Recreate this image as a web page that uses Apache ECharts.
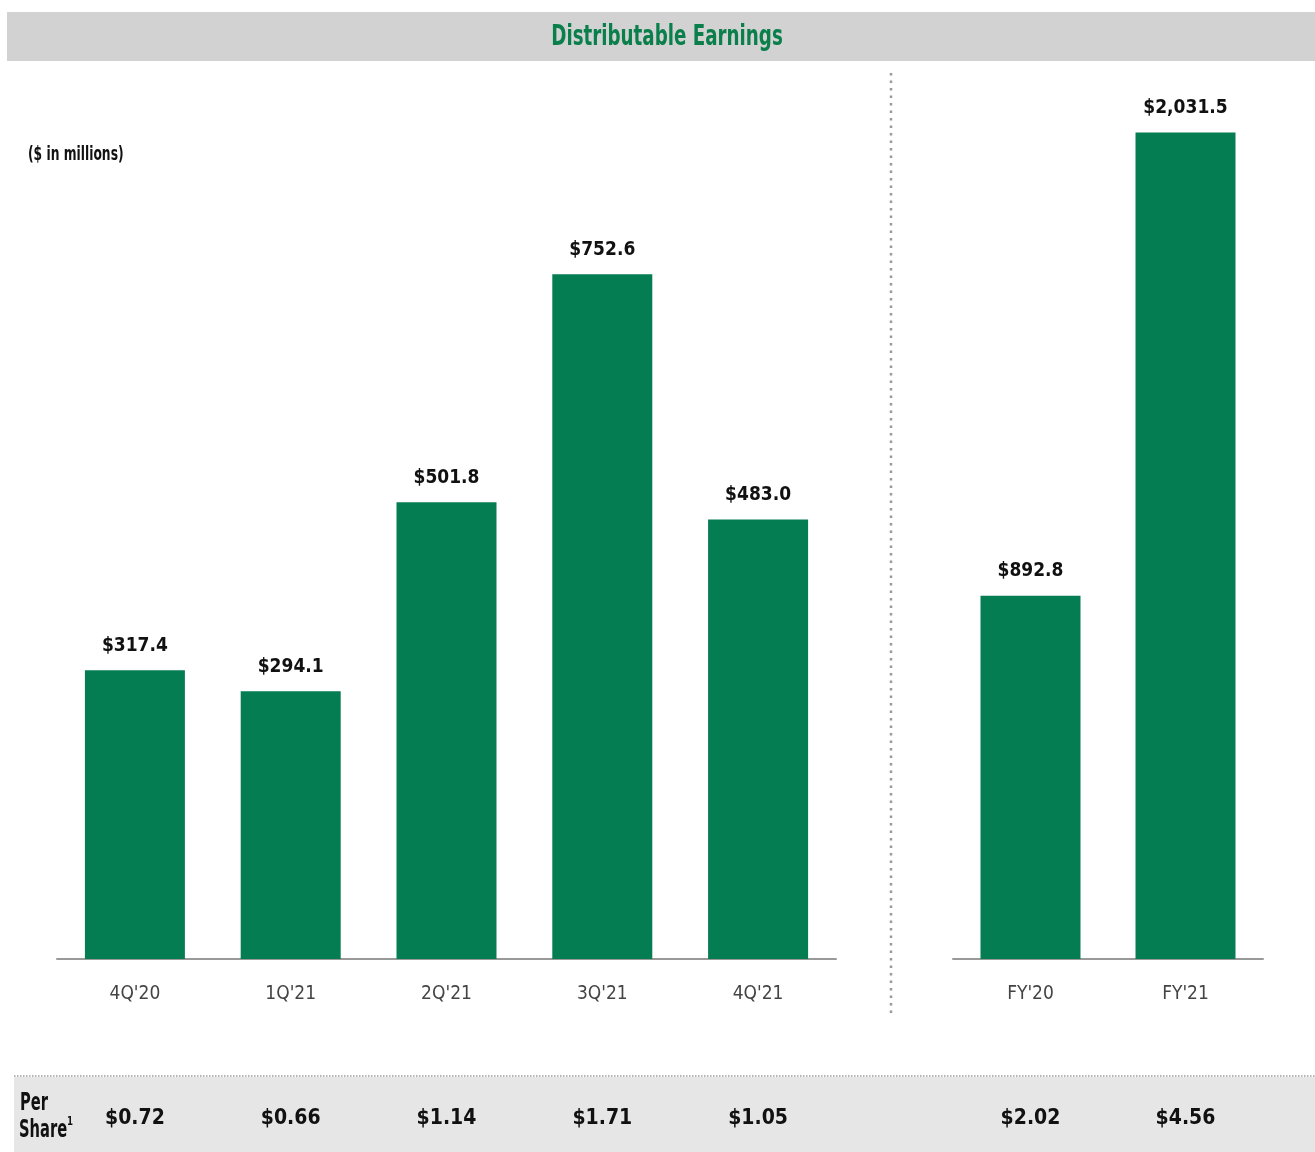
<!DOCTYPE html>
<html>
<head>
<meta charset="utf-8">
<script src="https://cdn.jsdelivr.net/npm/echarts@6/dist/echarts.min.js"></script>
<style>html,body{margin:0;padding:0;background:#fff}#c{width:1315px;height:1152px}</style>
</head>
<body>
<div id="c"></div>
<script>
const quarterCats = ["4Q'20", "1Q'21", "2Q'21", "3Q'21", "4Q'21"];
const quarterVals = [317.4, 294.1, 501.8, 752.6, 483.0];
const quarterPerShare = ["$0.72", "$0.66", "$1.14", "$1.71", "$1.05"];
const yearCats = ["FY'20", "FY'21"];
const yearVals = [892.8, 2031.5];
const yearPerShare = ["$2.02", "$4.56"];

const FONT = "'DejaVu Sans Condensed', 'Liberation Sans Narrow', 'Roboto', sans-serif";
const GREEN = '#057d52';

const chart = echarts.init(document.getElementById('c'));
function fmt(v) {
  return '$' + v.toLocaleString('en-US', {minimumFractionDigits: 1, maximumFractionDigits: 1});
}
const barLabel = {
  show: true, position: 'top', distance: 15, color: '#111', fontFamily: FONT,
  fontWeight: 'bold', fontSize: 19, formatter: p => fmt(p.value)
};
const catLabel = { color: '#444', fontFamily: FONT, fontSize: 19, margin: 26 };
const psLabel = { color: '#111', fontFamily: FONT, fontSize: 21, fontWeight: 'bold', margin: 0 };

function sText(x, y, text, font, sx, align) {
  return { type: 'text', x: x, y: y, scaleX: sx,
    style: { text: text, fill: '#111', font: font, textAlign: align || 'left', textVerticalAlign: 'middle' } };
}

chart.setOption({
  animation: false,
  graphic: [
    { type: 'rect', z: -10, shape: { x: 7, y: 12, width: 1308, height: 49 }, style: { fill: '#d2d2d2' } },
    { type: 'rect', z: -10, shape: { x: 14, y: 1077, width: 1301, height: 75 }, style: { fill: '#e6e6e6' } },
    { type: 'line', shape: { x1: 14, y1: 1076, x2: 1315, y2: 1076 }, style: { stroke: '#9a9a9a', lineWidth: 1.5, lineDash: [1.5, 1.5] } },
    { type: 'line', shape: { x1: 891, y1: 73, x2: 891, y2: 1018 }, style: { stroke: '#9a9a9a', lineWidth: 2.5, lineDash: [2.5, 5] } },
    { type: 'text', x: 667, y: 37, scaleX: 0.7,
      style: { text: 'Distributable Earnings', fill: '#0a7f4c', font: "bold 29px " + FONT, textAlign: 'center', textVerticalAlign: 'middle' } },
    sText(28, 155, '($ in millions)', "bold 19px " + FONT, 0.72),
    sText(20, 1104, 'Per', "bold 24px " + FONT, 0.68),
    sText(19, 1131, 'Share', "bold 24px " + FONT, 0.68),
    sText(67, 1122, '1', "bold 12px " + FONT, 0.8)
  ],
  grid: [
    { left: 57, width: 779, top: 231, height: 728 },
    { left: 953, width: 310, top: 64, height: 895 }
  ],
  xAxis: [
    { type: 'category', gridIndex: 0, data: quarterCats, axisTick: { show: false },
      axisLine: { lineStyle: { color: '#999', width: 2 } }, axisLabel: catLabel },
    { type: 'category', gridIndex: 1, data: yearCats, axisTick: { show: false },
      axisLine: { lineStyle: { color: '#999', width: 2 } }, axisLabel: catLabel },
    { type: 'category', gridIndex: 0, position: 'bottom', offset: 149, data: quarterPerShare,
      axisTick: { show: false }, axisLine: { show: false }, axisLabel: psLabel },
    { type: 'category', gridIndex: 1, position: 'bottom', offset: 149, data: yearPerShare,
      axisTick: { show: false }, axisLine: { show: false }, axisLabel: psLabel }
  ],
  yAxis: [
    { type: 'value', gridIndex: 0, min: 0, max: 800, show: false, splitLine: { show: false } },
    { type: 'value', gridIndex: 1, min: 0, max: 2200, show: false, splitLine: { show: false } }
  ],
  series: [
    { type: 'bar', xAxisIndex: 0, yAxisIndex: 0, data: quarterVals, barWidth: 100,
      itemStyle: { color: GREEN }, label: barLabel },
    { type: 'bar', xAxisIndex: 1, yAxisIndex: 1, data: yearVals, barWidth: 100,
      itemStyle: { color: GREEN }, label: barLabel }
  ]
});
</script>
</body>
</html>
